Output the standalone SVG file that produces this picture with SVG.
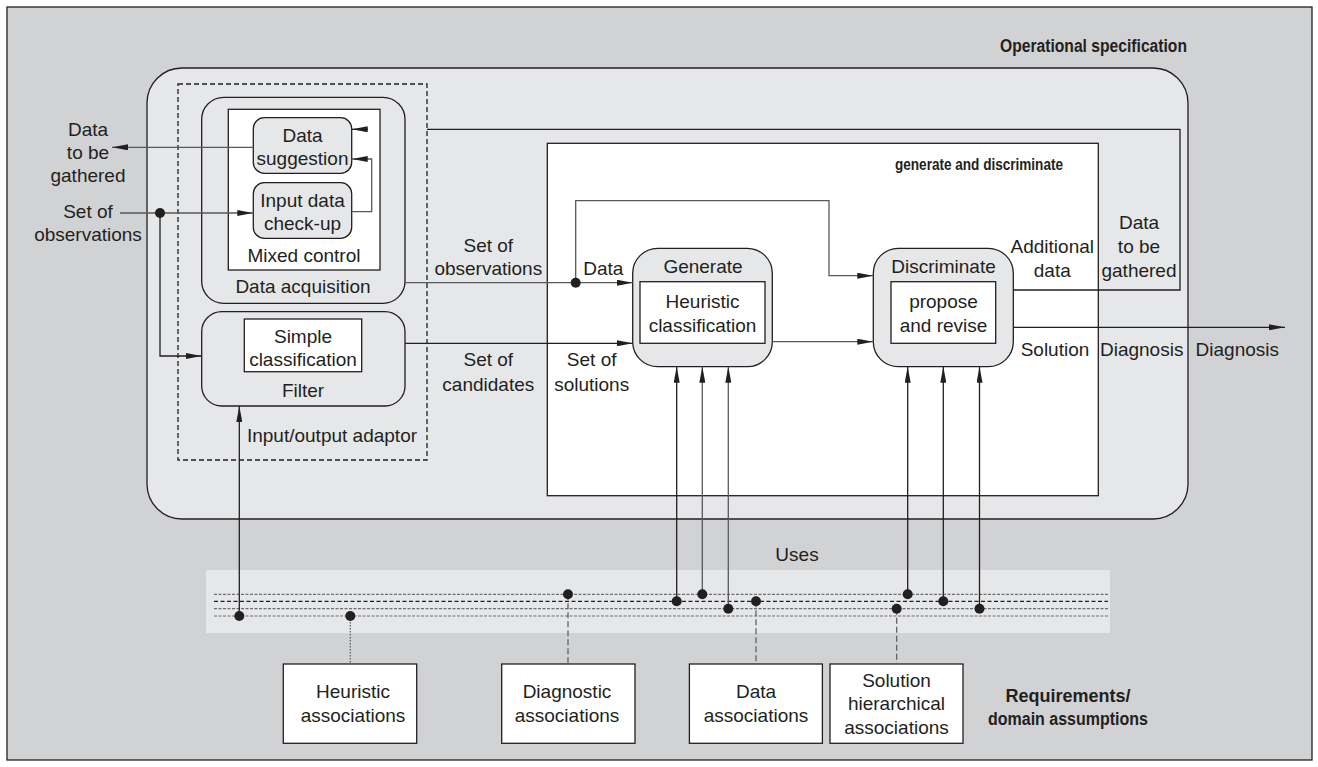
<svg xmlns="http://www.w3.org/2000/svg" width="1318" height="767" viewBox="0 0 1318 767">
<style>
text{font-family:"Liberation Sans",Arial,sans-serif;font-size:19px;fill:#231f20;text-anchor:middle}
.b{font-weight:bold;font-size:17px}
.ln{fill:none;stroke:#231f20;stroke-width:1.3}
.gl{fill:none;stroke:#58595b;stroke-width:1.3}
.pn{fill:#e6e7e8;stroke:#231f20;stroke-width:1.3}
.wh{fill:#fff;stroke:#231f20;stroke-width:1.3}
.dot{fill:#231f20}
.ud{fill:none;stroke:#6d6e70;stroke-width:1.2;stroke-dasharray:3 1.5}
.uk{fill:none;stroke:#231f20;stroke-width:1.2;stroke-dasharray:4 2.5}
.dd{fill:none;stroke:#58595b;stroke-width:1.2;stroke-dasharray:6 3}
.dt{fill:none;stroke:#58595b;stroke-width:1.2;stroke-dasharray:1.5 1.5}
</style>
<defs>
<marker id="ah" viewBox="0 0 16 6" refX="16" refY="3" markerWidth="16" markerHeight="6" markerUnits="userSpaceOnUse" orient="auto">
<path d="M0,0 L16,3 L0,6 z" fill="#231f20"/>
</marker>
</defs>
<g id="background">
<rect x="7" y="7" width="1305" height="753" fill="#d1d2d4" stroke="#231f20" stroke-width="1.3"/>
</g>
<g id="operational-specification">
<rect x="147" y="68" width="1041" height="451" rx="35" class="pn"/>
<text class="b" x="1187" y="52" textLength="187" lengthAdjust="spacingAndGlyphs" style="text-anchor:end;font-size:18px">Operational specification</text>
</g>
<g id="uses-band">
<rect x="206" y="570" width="904" height="63" fill="#e6e7e8"/>
<text x="797" y="561">Uses</text>
<line x1="214" y1="594.3" x2="1108" y2="594.3" class="ud"/>
<line x1="214" y1="601.3" x2="1108" y2="601.3" class="uk"/>
<line x1="214" y1="608.7" x2="1108" y2="608.7" class="ud"/>
<line x1="214" y1="616" x2="1108" y2="616" class="ud"/>
</g>
<g id="input-output-adaptor">
<rect x="178" y="84" width="249" height="376" fill="none" stroke="#231f20" stroke-width="1.3" stroke-dasharray="5 3"/>
<text x="332" y="442">Input/output adaptor</text>
</g>
<g id="data-acquisition">
<rect x="201.7" y="97.3" width="203.3" height="206" rx="22" class="pn"/>
<text x="303" y="293">Data acquisition</text>
</g>
<g id="mixed-control">
<rect x="228.3" y="109.3" width="151.7" height="160.7" class="wh"/>
<text x="304" y="261.5">Mixed control</text>
</g>
<g id="data-suggestion">
<rect x="253.3" y="117.7" width="98.4" height="55.6" rx="11" class="pn"/>
<text x="302.5" y="142.3">Data</text>
<text x="302.5" y="165">suggestion</text>
</g>
<g id="input-data-check-up">
<rect x="253.3" y="182.7" width="98.4" height="55.6" rx="11" class="pn"/>
<text x="302.5" y="206.7">Input data</text>
<text x="302.5" y="230">check-up</text>
</g>
<g id="filter">
<rect x="201.7" y="311.7" width="203.3" height="94.3" rx="20" class="pn"/>
<rect x="244.3" y="319" width="117.4" height="52.7" class="wh"/>
<text x="303" y="342.7">Simple</text>
<text x="303" y="366">classification</text>
<text x="303" y="396.7">Filter</text>
</g>
<g id="generate-and-discriminate">
<rect x="547.3" y="143.3" width="551" height="352.4" class="wh"/>
<text class="b" x="979" y="170" textLength="168" lengthAdjust="spacingAndGlyphs" style="font-size:17px">generate and discriminate</text>
</g>
<g id="generate">
<rect x="632.7" y="248.3" width="139.6" height="118.4" rx="25" class="pn"/>
<rect x="640" y="281.7" width="125" height="61.6" class="wh"/>
<text x="703" y="272.7">Generate</text>
<text x="702.5" y="308.3">Heuristic</text>
<text x="702.5" y="331.7">classification</text>
</g>
<g id="discriminate">
<rect x="873.3" y="248.3" width="140" height="118.4" rx="25" class="pn"/>
<rect x="891" y="281.7" width="104.7" height="61.6" class="wh"/>
<text x="943.5" y="272.7">Discriminate</text>
<text x="943.5" y="308.3">propose</text>
<text x="943.5" y="331.7">and revise</text>
</g>
<g id="heuristic-associations">
<rect x="283.3" y="664" width="133.4" height="79.3" class="wh"/>
<text x="353" y="698.3">Heuristic</text>
<text x="353" y="721.7">associations</text>
</g>
<g id="diagnostic-associations">
<rect x="501.7" y="664" width="133.3" height="79.3" class="wh"/>
<text x="567" y="698.3">Diagnostic</text>
<text x="567" y="721.7">associations</text>
</g>
<g id="data-associations">
<rect x="689.4" y="664" width="133" height="79.3" class="wh"/>
<text x="756" y="698.3">Data</text>
<text x="756" y="721.7">associations</text>
</g>
<g id="solution-hierarchical-associations">
<rect x="830" y="664" width="133" height="79.3" class="wh"/>
<text x="896.5" y="687">Solution</text>
<text x="896.5" y="710.3">hierarchical</text>
<text x="896.5" y="733.6">associations</text>
</g>
<g id="requirements-label">
<text class="b" x="1068" y="702" style="font-size:18px">Requirements/</text>
<text class="b" x="1068" y="725" style="font-size:18px" textLength="160" lengthAdjust="spacingAndGlyphs">domain assumptions</text>
</g>
<g id="labels">
<text x="88" y="135.7">Data</text>
<text x="88" y="159">to be</text>
<text x="88" y="182.3">gathered</text>
<text x="88" y="218.3">Set of</text>
<text x="88" y="240.7">observations</text>
<text x="488.3" y="252.3">Set of</text>
<text x="488.3" y="275">observations</text>
<text x="603.3" y="275">Data</text>
<text x="488.3" y="366">Set of</text>
<text x="488.3" y="390.7">candidates</text>
<text x="591.7" y="366">Set of</text>
<text x="591.7" y="390.7">solutions</text>
<text x="1052.3" y="253.3">Additional</text>
<text x="1052.3" y="277.3">data</text>
<text x="1139" y="229.3">Data</text>
<text x="1139" y="253.3">to be</text>
<text x="1139" y="277.3">gathered</text>
<text x="1055" y="355.7">Solution</text>
<text x="1141.7" y="355.7">Diagnosis</text>
<text x="1237.3" y="355.7">Diagnosis</text>
</g>
<g id="connectors">
<path d="M253.3,147.3 H112" class="gl" marker-end="url(#ah)"/>
<path d="M120,213 H253.3" class="gl" marker-end="url(#ah)"/>
<path d="M160,213 V356 H201.7" class="ln" marker-end="url(#ah)"/>
<path d="M351.7,211.7 H371.7 V159 H351.7" class="gl" marker-end="url(#ah)"/>
<path d="M368,129.3 H351.7" class="ln" marker-end="url(#ah)"/>
<path d="M1013.3,290 H1180 V129.3 H427" class="ln"/>
<path d="M405,282.7 H632.7" class="gl" marker-end="url(#ah)"/>
<path d="M575.7,282.7 V200.7 H829 V275.7 H873.3" class="gl" marker-end="url(#ah)"/>
<path d="M405,343.3 H632.7" class="ln" marker-end="url(#ah)"/>
<path d="M772.3,341.7 H873.3" class="gl" marker-end="url(#ah)"/>
<path d="M1013.3,327.3 H1285" class="ln" marker-end="url(#ah)"/>
<path d="M676.7,601.3 V366.7" class="ln" marker-end="url(#ah)"/>
<path d="M702.3,594.3 V366.7" class="gl" marker-end="url(#ah)"/>
<path d="M728.3,608.7 V366.7" class="gl" marker-end="url(#ah)"/>
<path d="M907.7,594.3 V366.7" class="ln" marker-end="url(#ah)"/>
<path d="M943.3,601.3 V366.7" class="ln" marker-end="url(#ah)"/>
<path d="M979.5,608.7 V366.7" class="ln" marker-end="url(#ah)"/>
<path d="M239.3,616 V406" class="ln" marker-end="url(#ah)"/>
<path d="M350.3,616 V664" class="dt"/>
<path d="M568,594.3 V664" class="dd"/>
<path d="M756,601.3 V664" class="dd"/>
<path d="M896.7,608.7 V664" class="dd"/>
<circle cx="160" cy="213" r="5" class="dot"/>
<circle cx="575.7" cy="282.7" r="5" class="dot"/>
<circle cx="239.3" cy="616" r="5" class="dot"/>
<circle cx="350.3" cy="616" r="5" class="dot"/>
<circle cx="568" cy="594.3" r="5" class="dot"/>
<circle cx="676.7" cy="601.3" r="5" class="dot"/>
<circle cx="702.3" cy="594.3" r="5" class="dot"/>
<circle cx="728.3" cy="608.7" r="5" class="dot"/>
<circle cx="756" cy="601.3" r="5" class="dot"/>
<circle cx="896.7" cy="608.7" r="5" class="dot"/>
<circle cx="907.7" cy="594.3" r="5" class="dot"/>
<circle cx="943.3" cy="601.3" r="5" class="dot"/>
<circle cx="979.5" cy="608.7" r="5" class="dot"/>
</g>
</svg>
